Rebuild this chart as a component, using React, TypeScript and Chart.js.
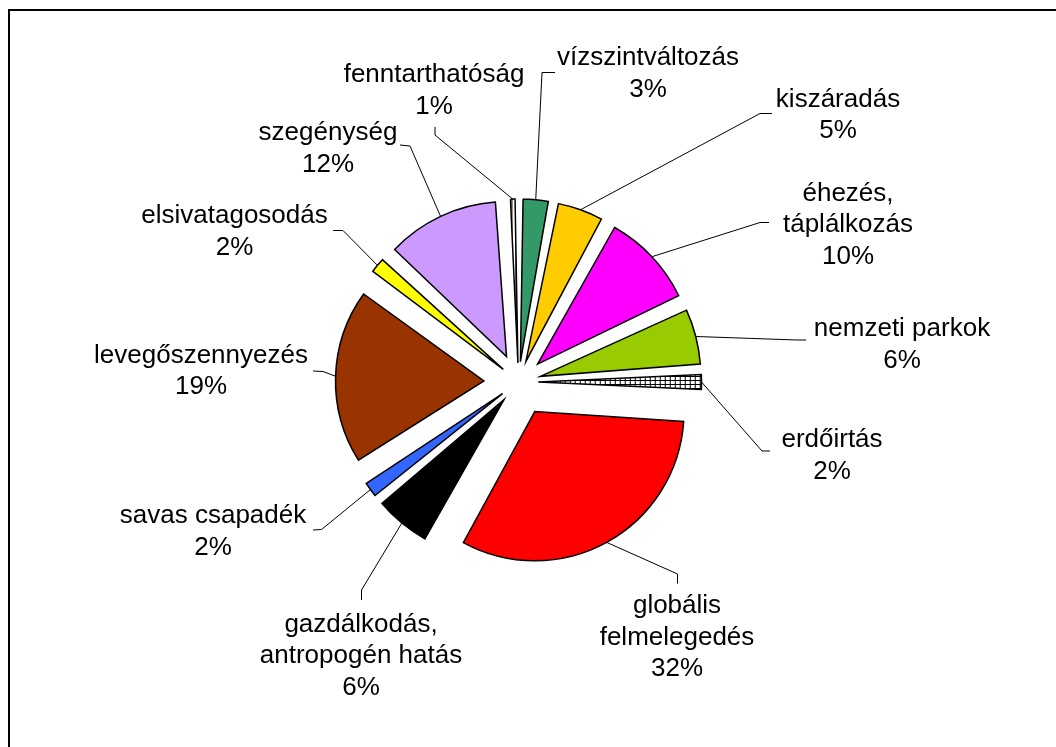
import React, { useEffect, useRef } from 'react';
import { Chart, registerables } from 'chart.js';

Chart.register(...registerables);

// ---- data ----
const categories: string[][] = [
  ['vízszintváltozás'],
  ['kiszáradás'],
  ['éhezés,', 'táplálkozás'],
  ['nemzeti parkok'],
  ['erdőirtás'],
  ['globális', 'felmelegedés'],
  ['gazdálkodás,', 'antropogén hatás'],
  ['savas csapadék'],
  ['levegőszennyezés'],
  ['elsivatagosodás'],
  ['szegénység'],
  ['fenntarthatóság'],
];
const values: number[] = [3, 5, 10, 6, 2, 32, 6, 2, 19, 2, 12, 1];

// ---- styles / layout ----
const fills: string[] = [
  '#339966', '#FFCC00', '#FF00FF', '#99CC00', 'grid', '#FF0000',
  '#000000', '#3366FF', '#993300', '#FFFF00', '#CC99FF', 'vstripe',
];
// label anchor: [centerX, first baseline]
const labelAnchors: number[][] = [
  [648, 65], [838, 106.5], [848, 200.5], [902, 336], [832, 447], [677, 613],
  [361, 631.5], [213, 523], [201, 362.5], [234.5, 223], [328, 140], [434, 82],
];
// leader line: [elbowX, elbowY, endX, endY]
const leaderBends: number[][] = [
  [542, 72.5, 555, 72.5], [760, 113.5, 772, 113.5], [760, 222.5, 769, 222.5],
  [797, 340, 806, 340], [762, 451, 770, 451], [677.5, 574, 677.5, 583.5],
  [361.5, 590, 361.5, 600], [321.5, 529.5, 313, 530], [323, 371.5, 313, 371],
  [343, 230.5, 333, 230.5], [410, 146, 400, 145], [435, 135, 435, 127],
];

const W = 1056;
const H = 747;
const CX = 518.5;
const CY = 382;
const RADIUS = 146;
const EXPLODE = 37;
const LINE_H = 31.5;
const FONT = '26px "Liberation Sans", Arial, Helvetica, sans-serif';

function makePattern(ctx: CanvasRenderingContext2D, kind: string): CanvasPattern | string {
  const c = document.createElement('canvas');
  if (kind === 'grid') {
    c.width = 5; c.height = 4;
    const g = c.getContext('2d')!;
    g.fillStyle = '#ffffff'; g.fillRect(0, 0, 5, 4);
    g.fillStyle = '#000000';
    g.fillRect(0, 0, 1, 4);
    g.fillRect(0, 0, 5, 1);
  } else if (kind === 'vstripe') {
    c.width = 4; c.height = 4;
    const g = c.getContext('2d')!;
    g.fillStyle = '#ffffff'; g.fillRect(0, 0, 4, 4);
    g.fillStyle = '#000000'; g.fillRect(0, 0, 1, 4);
  } else {
    return kind;
  }
  return ctx.createPattern(c, 'repeat') || '#ffffff';
}

export default function App() {
  const ref = useRef<HTMLCanvasElement | null>(null);

  useEffect(() => {
    const canvas = ref.current;
    if (!canvas) return;
    const ctx = canvas.getContext('2d')!;
    const total = values.reduce((a, b) => a + b, 0);
    const bg = fills.map((f) => makePattern(ctx, f));
    // Chart.js v4 arc translation = offset/4 * (2 - sin(min(PI, circumference)))
    const offsets = values.map((v) => {
      const circ = (v / total) * Math.PI * 2;
      return (4 * EXPLODE) / (2 - Math.sin(Math.min(Math.PI, circ)));
    });

    const framePlugin = {
      id: 'frame',
      beforeDraw(chart: any) {
        const c = chart.ctx as CanvasRenderingContext2D;
        c.save();
        c.fillStyle = '#ffffff';
        c.fillRect(0, 0, W, H);
        c.fillStyle = '#000000';
        c.fillRect(8, 9, 2, H);
        c.fillRect(8, 9, W, 2);
        c.restore();
      },
    };

    const labelPlugin = {
      id: 'outLabels',
      afterDatasetsDraw(chart: any) {
        const c = chart.ctx as CanvasRenderingContext2D;
        const meta = chart.getDatasetMeta(0);
        c.save();
        c.strokeStyle = '#000000';
        c.lineWidth = 1;
        meta.data.forEach((arc: any, i: number) => {
          const p = arc.getProps(['x', 'y', 'startAngle', 'endAngle', 'outerRadius'], true);
          const mid = (p.startAngle + p.endAngle) / 2;
          const circ = p.endAngle - p.startAngle;
          const disp = (offsets[i] / 4) * (2 - Math.sin(Math.min(Math.PI, circ)));
          const sx = p.x + Math.cos(mid) * (disp + p.outerRadius);
          const sy = p.y + Math.sin(mid) * (disp + p.outerRadius);
          const b = leaderBends[i];
          c.beginPath();
          c.moveTo(sx, sy);
          c.lineTo(b[0], b[1]);
          c.lineTo(b[2], b[3]);
          c.stroke();
        });
        c.fillStyle = '#000000';
        c.font = FONT;
        c.textAlign = 'center';
        c.textBaseline = 'alphabetic';
        categories.forEach((lines, i) => {
          const pct = Math.round((values[i] / total) * 100) + '%';
          const all = [...lines, pct];
          const [x, y] = labelAnchors[i];
          all.forEach((t, k) => c.fillText(t, x, y + k * LINE_H));
        });
        c.restore();
      },
    };

    const chart = new Chart(canvas, {
      type: 'pie',
      data: {
        labels: categories.map((l) => l.join(' ')),
        datasets: [
          {
            data: values,
            backgroundColor: bg as any,
            borderColor: '#000000',
            borderWidth: 1.5,
            borderJoinStyle: 'miter',
            offset: offsets,
            hoverOffset: offsets,
            radius: RADIUS,
            clip: false,
          } as any,
        ],
      },
      options: {
        animation: false,
        responsive: false,
        maintainAspectRatio: false,
        devicePixelRatio: 1,
        radius: RADIUS,
        events: [],
        layout: {
          padding: {
            left: CX - 300,
            right: W - (CX + 300),
            top: CY - 200,
            bottom: H - (CY + 200),
          },
        },
        plugins: {
          legend: { display: false },
          tooltip: { enabled: false },
        },
      } as any,
      plugins: [framePlugin, labelPlugin],
    });
    return () => chart.destroy();
  }, []);

  return (
    <div style={{ position: 'fixed', left: 0, top: 0, width: W, height: H, overflow: 'hidden', background: '#fff' }}>
      <canvas ref={ref} width={W} height={H} style={{ display: 'block', width: W, height: H }} />
    </div>
  );
}
